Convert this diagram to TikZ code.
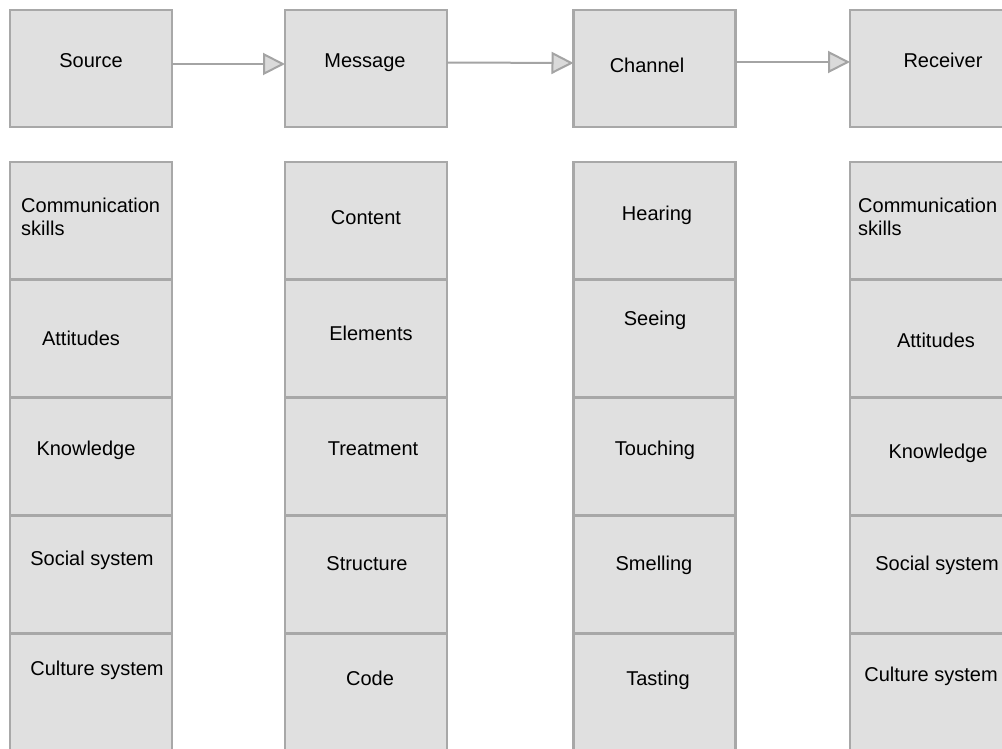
\documentclass[tikz,border=0pt]{standalone}
\usepackage{fontspec}
\setmainfont{Liberation Sans}
\usetikzlibrary{arrows.meta}
\definecolor{boxfill}{HTML}{E0E0E0}
\definecolor{boxline}{HTML}{A8A8A8}
\definecolor{arrowline}{HTML}{A4A4A4}
\definecolor{tipfill}{HTML}{DADADA}
\definecolor{txt}{HTML}{000000}
\tikzset{
  cell/.style={draw=boxline, fill=boxfill, line width=2.2pt, minimum width=162pt, minimum height=117pt, inner sep=0pt, outer sep=0pt},
  lbl/.style={text=txt, font=\fontsize{20}{23}\selectfont, inner sep=0pt, anchor=base},
  lblL/.style={lbl, anchor=base west, align=left},
  flow/.style={draw=arrowline, line width=2pt, -{Triangle[length=22pt, width=22pt, fill=tipfill]}}
}
\begin{document}
\begin{tikzpicture}[x=1pt, y=-1pt]
\clip (0,0) rectangle (1002,749);
\fill[white] (0,0) rectangle (1002,749);
% top row
\node[cell] (src) at (91,68.5) {};
\node[cell] (msg) at (366,68.5) {};
\node[cell] (chn) at (654.5,68.5) {};
\node[cell] (rcv) at (931,68.5) {};
\node[lbl] (tsrc) at (91,68) {Source};
\node[lbl] (tmsg) at (365,68) {Message};
\node[lbl] (tchn) at (647,73) {Channel};
\node[lbl] (trcv) at (943,68) {Receiver};
% arrows
\draw[flow] ([yshift=4.5pt]src.east) -- ([yshift=4.5pt]msg.west);
\draw[flow] ([yshift=6pt]msg.east) -- ([yshift=5.5pt]chn.west);
\draw[flow] ([yshift=6.5pt]chn.east) -- ([yshift=6.5pt]rcv.west);
% lower columns
\foreach \c/\x in {s/91, m/366, c/654.5, r/931}{
  \foreach \i/\y in {1/220.5, 2/338.5, 3/456.5, 4/574.5, 5/692.5}{
    \node[cell] (\c\i) at (\x,\y) {};
  }
}
% Source column texts
\node[lblL] (ts1) at (21,235) {Communication\\skills};
\node[lbl] (ts2) at (81,345) {Attitudes};
\node[lbl] (ts3) at (86,455) {Knowledge};
\node[lbl] (ts4) at (92,565) {Social system};
\node[lbl] (ts5) at (97,675) {Culture system};
% Message column texts
\node[lbl] (tm1) at (366,225) {Content};
\node[lbl] (tm2) at (371,340) {Elements};
\node[lbl] (tm3) at (373,455) {Treatment};
\node[lbl] (tm4) at (367,570) {Structure};
\node[lbl] (tm5) at (370,685) {Code};
% Channel column texts
\node[lbl] (tc1) at (657,220) {Hearing};
\node[lbl] (tc2) at (655,325) {Seeing};
\node[lbl] (tc3) at (655,455) {Touching};
\node[lbl] (tc4) at (654,570) {Smelling};
\node[lbl] (tc5) at (658,685) {Tasting};
% Receiver column texts
\node[lblL] (tr1) at (858,235) {Communication\\skills};
\node[lbl] (tr2) at (936,347) {Attitudes};
\node[lbl] (tr3) at (938,458) {Knowledge};
\node[lbl] (tr4) at (937,570) {Social system};
\node[lbl] (tr5) at (931,681) {Culture system};
\end{tikzpicture}
\end{document}
